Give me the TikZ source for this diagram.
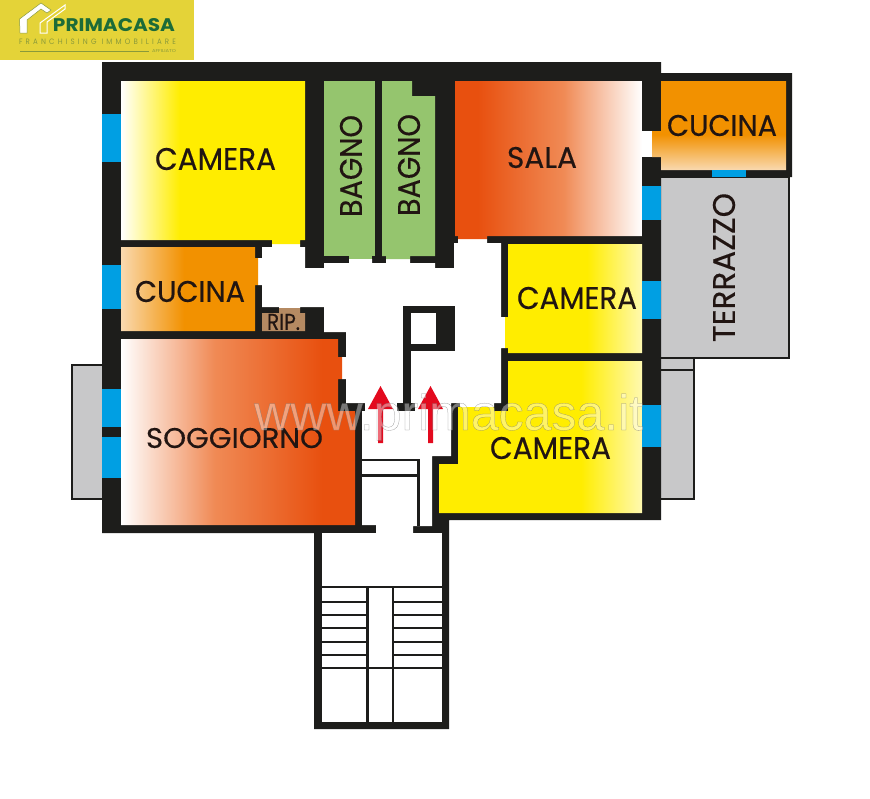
\documentclass[tikz,border=0pt]{standalone}
\usepackage{graphicx}
\usepackage{fontspec}
\setmainfont{Poppins}
\newfontfamily\lblfont{Poppins}[FakeBold=0.35]
\newfontfamily\wmfont{Liberation Sans}[FakeBold=0.5]
\usetikzlibrary{calc}
\definecolor{wallc}{HTML}{1D1D1B}
\definecolor{winc}{HTML}{009FE3}
\definecolor{yel}{HTML}{FFED00}
\definecolor{pale}{HTML}{FFF9B0}
\definecolor{redo}{HTML}{E8500F}
\definecolor{midred}{HTML}{F08A55}
\definecolor{ora}{HTML}{F29100}
\definecolor{palora}{HTML}{F9D9B0}
\definecolor{grn}{HTML}{95C56E}
\definecolor{gry}{HTML}{C8C8C9}
\definecolor{brn}{HTML}{B58A62}
\definecolor{arr}{HTML}{E30A1E}
\definecolor{logoy}{HTML}{E4D338}
\definecolor{logog}{HTML}{1C6B38}
\definecolor{logoo}{HTML}{8A9A3A}
\definecolor{txt}{HTML}{211512}
\pgfdeclarehorizontalshading{camA}{100bp}{color(0bp)=(white);color(25bp)=(white);color(41bp)=(yel);color(100bp)=(yel)}
\pgfdeclarehorizontalshading{camB}{100bp}{color(0bp)=(yel);color(55bp)=(yel);color(75bp)=(pale);color(100bp)=(pale)}
\pgfdeclarehorizontalshading{camC}{100bp}{color(0bp)=(yel);color(60bp)=(yel);color(75bp)=(pale);color(100bp)=(pale)}
\pgfdeclarehorizontalshading{salaS}{100bp}{color(0bp)=(redo);color(31bp)=(redo);color(54bp)=(midred);color(75bp)=(white);color(100bp)=(white)}
\pgfdeclarehorizontalshading{soggS}{100bp}{color(0bp)=(white);color(25bp)=(white);color(45bp)=(midred);color(68bp)=(redo);color(100bp)=(redo)}
\pgfdeclarehorizontalshading{cucL}{100bp}{color(0bp)=(palora);color(25bp)=(palora);color(48bp)=(ora);color(100bp)=(ora)}
\pgfdeclareverticalshading{cucR}{100bp}{color(0bp)=(palora);color(25bp)=(palora);color(45bp)=(ora);color(100bp)=(ora)}
\tikzset{
  wall/.style={fill=wallc,draw=none},
  room/.style={draw=none},
  win/.style={fill=winc,draw=none},
  balcony/.style={fill=gry,draw=wallc,line width=2pt},
  hairline/.style={draw=wallc,line width=2pt},
  lbl/.style={inner sep=0pt,outer sep=0pt,text=txt,anchor=center,font=\lblfont},
  arrowred/.style={fill=arr,draw=none},
}
\newcommand{\fitlbl}[3]{\resizebox{#1pt}{#2pt}{#3}}
\begin{document}
\begin{tikzpicture}[x=1pt,y=-1pt]
\useasboundingbox (0,0) rectangle (870,798);
\fill[white] (0,0) rectangle (870,798);
% logo
\fill[logoy] (0,0) rectangle (194,60);
\path[fill=white,draw=logoo,line width=0.5pt] (19.5,19) -- (41,3) -- (51,10) -- (47,13) -- (41,9) -- (27,20) -- (27,33) -- (20,33) -- cycle;
\path[fill=logoy,draw=white,line width=1pt] (40,23) -- (65,5) -- (65,9) -- (47,22) -- (47,33) -- (40,33) -- cycle;
\node[inner sep=0pt,text=logog,font=\bfseries] (logoname) at (114,25.5) {\fitlbl{122}{13}{PRIMACASA}};
\node[inner sep=0pt,text=logoo] (logosub) at (97.5,42) {\fitlbl{157}{5.5}{\addfontfeature{LetterSpace=45}FRANCHISING IMMOBILIARE}};
\draw[logoo,line width=0.5pt] (20,51.5) -- (149,51.5);
\node[inner sep=0pt,text=logoo] (logoaff) at (164,51.5) {\fitlbl{24}{3}{AFFILIATO}};
% balconies behind
\path[balcony] (72,365) rectangle (104,499);
\path[balcony] (659,177) rectangle (789,358);
\path[balcony] (659,358) rectangle (694,499);
\draw[hairline] (661,370) -- (694,370);
% building footprint
\path[wall] (102,62) -- (661,62) -- (661,73) -- (792,73) -- (792,177) -- (661,177) -- (661,520) -- (449,520) -- (449,729) -- (314,729) -- (314,533) -- (102,533) -- cycle;
% stair interior
\fill[white] (322,533) rectangle (442,722);
% corridor
\fill[white] (272,244) -- (300,244) -- (300,247) -- (305,247) -- (305,268) -- (324,268) -- (324,263) -- (349,263) -- (349,259) -- (372,259) -- (372,263) -- (386,263) -- (386,259) -- (410,259) -- (410,263) -- (435,263) -- (435,268) -- (454,268) -- (454,243) -- (458,243) -- (458,239) -- (487,239) -- (487,243) -- (501,243) -- (501,317) -- (505,317) -- (505,348) -- (501,348) -- (501,403) -- (494,403) -- (494,407) -- (460,407) -- (460,403) -- (451,403) -- (451,456) -- (432,456) -- (432,526) -- (413,526) -- (413,533) -- (376,533) -- (376,525) -- (362,525) -- (362,411) -- (365,411) -- (365,403) -- (346,403) -- (346,379) -- (342,379) -- (342,357) -- (346,357) -- (346,332) -- (324,332) -- (324,307) -- (300,307) -- (300,308) -- (279,308) -- (279,307) -- (262,307) -- (262,285) -- (258,285) -- (258,258) -- (262,258) -- (262,247) -- (272,247) -- cycle;
% rooms
\path[room,shading=camA] (121,81) -- (305,81) -- (305,240) -- (300,240) -- (300,244) -- (272,244) -- (272,240) -- (121,240) -- cycle;
\path[room,fill=grn] (324,81) rectangle (375,256);
\path[room,fill=grn] (349,256) rectangle (372,259);
\path[room,fill=grn] (382,81) -- (412,81) -- (412,96) -- (435,96) -- (435,256) -- (410,256) -- (410,259) -- (386,259) -- (386,256) -- (382,256) -- cycle;
\path[room,shading=salaS] (455,81) -- (642,81) -- (642,236) -- (487,236) -- (487,239) -- (458,239) -- (458,236) -- (455,236) -- cycle;
\fill[white] (642,131) rectangle (652,157);
\path[room,shading=cucR] (661,81) -- (786,81) -- (786,170) -- (661,170) -- (661,157) -- (652,157) -- (652,131) -- (661,131) -- cycle;
\path[room,shading=cucL] (121,247) -- (255,247) -- (255,258) -- (258,258) -- (258,285) -- (255,285) -- (255,331) -- (121,331) -- cycle;
\path[room,fill=brn] (262,313) -- (279,313) -- (279,308) -- (300,308) -- (300,313) -- (305,313) -- (305,331) -- (262,331) -- cycle;
\path[room,shading=soggS] (121,339) -- (338,339) -- (338,357) -- (342,357) -- (342,379) -- (338,379) -- (338,411) -- (355,411) -- (355,525) -- (121,525) -- cycle;
\path[room,shading=camB] (508,244) -- (642,244) -- (642,353) -- (508,353) -- (508,348) -- (505,348) -- (505,317) -- (508,317) -- cycle;
\path[room,shading=camC] (508,361) -- (642,361) -- (642,513) -- (439,513) -- (439,464) -- (458,464) -- (458,407) -- (494,407) -- (494,411) -- (508,411) -- cycle;
% core block
\path[wall] (403,306) rectangle (455,351);
\fill[white] (411,313) rectangle (436,344);
\path[wall] (403,351) rectangle (411,403);
\path[wall] (397,403) rectangle (415,411);
% landing lines
\draw[wallc,line width=2pt] (362,460) -- (418,460);
\draw[wallc,line width=3pt] (362,475) -- (418,475);
\draw[wallc,line width=3pt] (418,459) -- (418,526);
% stair lines
\draw[hairline] (322,587) -- (442,587);
\draw[wallc,line width=2.5pt] (322,668) -- (442,668);
\draw[wallc,line width=2.5pt] (367.5,587) -- (367.5,722);
\draw[wallc,line width=2.5pt] (393,587) -- (393,722);
\foreach \yy in {602,615,628,642,655}{
  \draw[wallc,line width=2.5pt] (322,\yy) -- (367.5,\yy);
  \draw[wallc,line width=2.5pt] (393,\yy) -- (442,\yy);
}
% windows
\path[win] (102,114) rectangle (121,162);
\path[win] (102,265) rectangle (121,309);
\path[win] (102,389) rectangle (121,427);
\path[win] (102,437) rectangle (121,478);
\path[win] (642,186) rectangle (661,220);
\path[win] (642,281) rectangle (661,319);
\path[win] (642,405) rectangle (661,447);
\path[win] (712,170) rectangle (746,177);
% labels
\node[lbl] (l1) at (215.5,159) {\fitlbl{121}{22}{CAMERA}};
\node[lbl,rotate=90] (l2) at (351,166) {\fitlbl{102}{22}{BAGNO}};
\node[lbl,rotate=90] (l3) at (409,165) {\fitlbl{102}{22}{BAGNO}};
\node[lbl] (l4) at (542,157.5) {\fitlbl{70}{21}{SALA}};
\node[lbl] (l5) at (722,125.5) {\fitlbl{110}{21}{CUCINA}};
\node[lbl,rotate=90] (l6) at (724,267.5) {\fitlbl{149}{22}{TERRAZZO}};
\node[lbl] (l7) at (577,298) {\fitlbl{120}{22}{CAMERA}};
\node[lbl] (l8) at (550.5,448) {\fitlbl{121}{22}{CAMERA}};
\node[lbl] (l9) at (190,291.5) {\fitlbl{110}{21}{CUCINA}};
\node[lbl] (l10) at (283.5,322) {\fitlbl{33}{16}{RIP.}};
\node[lbl] (l11) at (234.5,438) {\fitlbl{177}{20}{SOGGIORNO}};
% arrows
\path[arrowred] (380.5,386) -- (393,409) -- (383,409) -- (383,443) -- (378,443) -- (378,409) -- (368,409) -- cycle;
\path[arrowred] (430.5,386) -- (443,409) -- (433,409) -- (433,443) -- (428,443) -- (428,409) -- (418,409) -- cycle;
% watermark
\begin{scope}[fill opacity=0.4,draw opacity=0.75]
\node[inner sep=0pt,anchor=base west] (wm) at (254,430) {\textcolor{white}{\special{pdf:code 0.45 0.45 0.45 RG}\wmfont\fontsize{50}{52}\selectfont www.primacasa.it}};
\end{scope}
\end{tikzpicture}
\end{document}
